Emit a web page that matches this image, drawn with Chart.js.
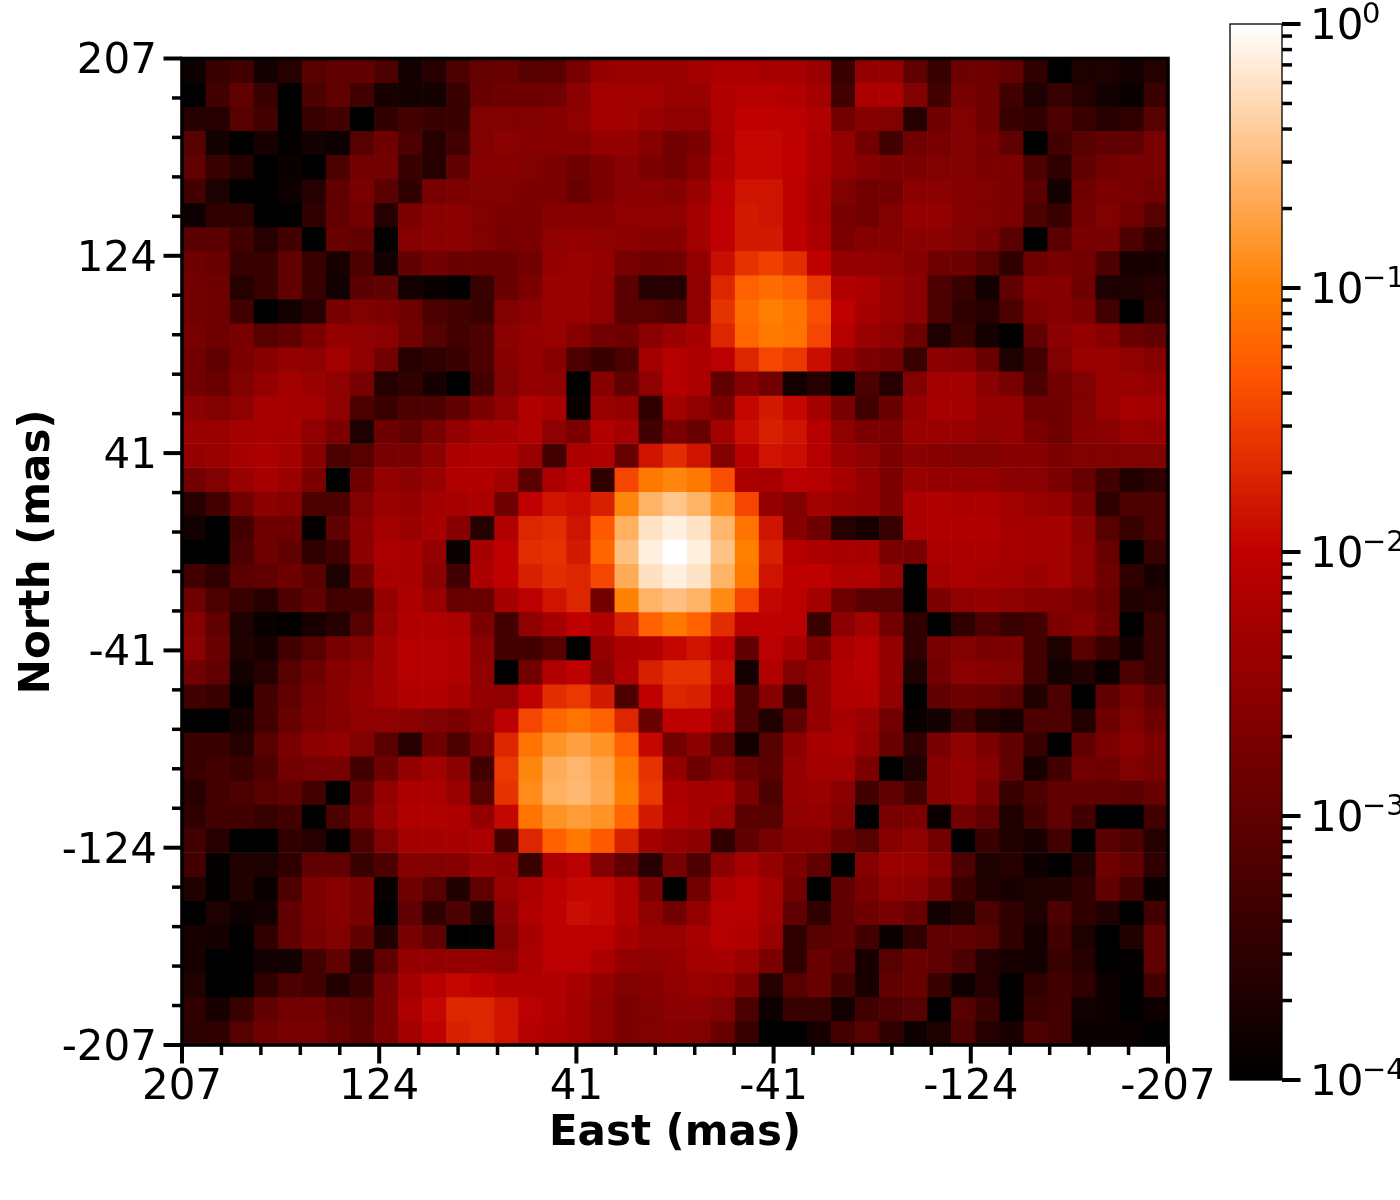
<!DOCTYPE html>
<html>
<head>
<meta charset="utf-8">
<title>PSF map</title>
<script src="https://cdn.jsdelivr.net/npm/chart.js@4"></script>
<style>
  body { margin: 0; background: #fff; }
  canvas { position: absolute; top: 0; }
  #map { left: 0; }
  #cbar { left: 1200px; }
</style>
</head>
<body>
<canvas id="map" width="1400" height="1200"></canvas>
<canvas id="cbar" width="200" height="1200"></canvas>
<script>
// log10 of the intensity per cell. Top row first, east on the left.
const logIntensity = [
[-3.85,-3.4,-3.3,-3.8,-3.6,-3.1,-3,-3,-3.2,-3.8,-3.6,-3.2,-2.95,-2.9, -3.1,-3.05,-2.75,-2.45,-2.4,-2.4,-2.4,-2.3,-2.2,-2.2,-2.25,-2.25,-2.4,-3.4, -2.45,-2.45,-3,-3.4,-2.85,-2.85,-3,-3.5,-4,-3.7,-3.7,-3.8,-3.6],
[-4,-3.3,-3,-3.4,-4,-3.2,-3,-3.3,-3.75,-3.8,-3.8,-3.4,-2.9,-2.85, -2.85,-2.8,-2.55,-2.3,-2.3,-2.3,-2.4,-2.4,-2.15,-2.1,-2.1,-2.15,-2.3,-3.3, -2.2,-2.2,-2.65,-3.3,-2.75,-2.85,-3.3,-3.7,-3.4,-3.6,-3.8,-3.9,-3.4],
[-3.6,-3.6,-3.1,-3.3,-4,-3.4,-3.3,-4,-3.5,-3.3,-3.4,-3.4,-2.65,-2.65, -2.65,-2.6,-2.5,-2.3,-2.3,-2.4,-2.5,-2.5,-2.15,-2,-2,-2.05,-2.15,-2.8, -2.6,-2.65,-3.6,-2.85,-2.65,-2.85,-3.4,-3.5,-3.2,-3.4,-3.6,-3.5,-3.1],
[-3.1,-3.8,-4,-3.75,-3.95,-3.8,-3.85,-3.1,-2.85,-3.2,-3.6,-3.3,-2.65,-2.55, -2.6,-2.6,-2.6,-2.45,-2.45,-2.6,-2.8,-2.7,-2.2,-1.95,-1.95,-2,-2.2,-2.45, -2.8,-3.3,-2.8,-2.75,-2.65,-2.75,-3,-4,-3.3,-3.1,-3,-3,-2.75],
[-3,-3.4,-3.6,-4,-3.9,-4,-3.2,-2.8,-2.8,-3.4,-3.6,-3,-2.6,-2.6, -2.65,-2.7,-2.85,-2.7,-2.55,-2.7,-2.8,-2.6,-2.15,-1.95,-1.95,-2,-2.2,-2.45, -2.6,-2.7,-2.7,-2.65,-2.65,-2.7,-2.7,-3.2,-3.5,-3,-2.8,-2.75,-2.75],
[-3.3,-3.7,-4,-4,-3.85,-3.6,-3,-2.75,-3.05,-3.5,-2.75,-2.7,-2.65,-2.65, -2.7,-2.7,-2.9,-2.7,-2.55,-2.55,-2.6,-2.4,-2.05,-1.85,-1.85,-2.05,-2.25,-2.65, -2.8,-2.8,-2.55,-2.55,-2.6,-2.65,-2.7,-3.05,-3.8,-2.85,-2.7,-2.75,-2.8],
[-3.85,-3.5,-3.5,-4,-4,-3.5,-3,-2.8,-3.6,-2.7,-2.55,-2.55,-2.65,-2.7, -2.7,-2.6,-2.6,-2.6,-2.5,-2.5,-2.5,-2.3,-2,-1.8,-1.85,-2.05,-2.25,-2.75, -2.8,-2.65,-2.45,-2.45,-2.6,-2.65,-2.7,-3.2,-3.4,-2.8,-2.65,-2.8,-3.1],
[-3.05,-3.05,-3.3,-3.6,-3.3,-4,-2.9,-3,-4,-2.6,-2.55,-2.55,-2.65,-2.75, -2.7,-2.5,-2.45,-2.5,-2.55,-2.6,-2.6,-2.3,-2,-1.8,-1.8,-2,-2.2,-2.7, -2.6,-2.6,-2.55,-2.55,-2.65,-2.75,-3.05,-4,-3.05,-2.75,-2.75,-3.2,-3.5],
[-2.85,-2.9,-3.4,-3.4,-3,-3.4,-3.75,-3.2,-3.8,-3,-2.8,-2.9,-2.9,-2.9, -2.8,-2.45,-2.4,-2.45,-2.75,-2.85,-2.8,-2.45,-1.9,-1.6,-1.5,-1.65,-2,-2.45, -2.45,-2.5,-2.6,-2.85,-2.85,-3.1,-3.5,-2.85,-2.75,-2.8,-3.2,-3.75,-3.75],
[-2.8,-2.85,-3.6,-3.4,-3,-3.4,-3.8,-3.05,-3,-3.8,-3.9,-4,-3.4,-2.9, -2.7,-2.4,-2.4,-2.5,-3.05,-3.6,-3.6,-2.5,-1.7,-1.25,-1.15,-1.25,-1.55,-2.15, -2.2,-2.4,-2.55,-3.2,-3.4,-3.8,-3,-2.6,-2.6,-2.85,-3.7,-3.7,-3.6],
[-2.8,-2.85,-3.3,-4,-3.8,-3.6,-2.75,-2.65,-2.7,-2.85,-3.2,-3.3,-3.4,-2.65, -2.55,-2.4,-2.4,-2.5,-3.05,-3.1,-3.2,-2.5,-1.6,-1.15,-1,-1.1,-1.4,-2, -2.25,-2.4,-2.55,-3.2,-3.5,-3.6,-3.2,-2.7,-2.6,-2.7,-3.3,-4,-3.5],
[-2.75,-2.85,-2.75,-3.1,-3,-2.7,-2.45,-2.5,-2.55,-2.8,-3.1,-3.3,-3.2,-2.55, -2.45,-2.4,-2.6,-2.8,-2.85,-2.55,-2.4,-2.25,-1.7,-1.2,-1.05,-1.1,-1.45,-2.1, -2.4,-2.5,-2.85,-3.7,-3.4,-3.8,-4,-3,-2.55,-2.45,-2.6,-2.9,-3],
[-2.8,-3,-2.7,-2.6,-2.45,-2.5,-2.3,-2.5,-2.8,-3.6,-3.5,-3.4,-3.2,-2.6, -2.45,-2.6,-3.2,-3.4,-3.2,-2.3,-2.1,-2.2,-2.05,-1.7,-1.45,-1.55,-1.9,-2.45, -2.7,-2.8,-3.4,-2.55,-2.6,-2.9,-3.7,-3.3,-2.65,-2.4,-2.4,-2.5,-2.6],
[-2.8,-2.9,-2.65,-2.45,-2.3,-2.4,-2.5,-2.75,-3.6,-3.5,-3.75,-4,-3.3,-2.65, -2.45,-2.5,-4,-2.6,-3,-2.5,-2.1,-2.2,-3,-2.6,-2.8,-3.8,-3.6,-4, -3.2,-3.6,-2.65,-2.3,-2.3,-2.55,-2.75,-3.2,-2.8,-2.65,-2.4,-2.4,-2.45],
[-2.55,-2.65,-2.5,-2.25,-2.25,-2.3,-2.5,-3.2,-3.4,-3.2,-3.2,-3,-2.7,-2.5, -2.15,-2.25,-3.9,-2.4,-2.45,-3.5,-2.3,-2.5,-2.7,-1.95,-1.8,-1.95,-2.3,-2.75, -3.3,-2.9,-2.45,-2.25,-2.25,-2.45,-2.45,-2.85,-2.85,-2.65,-2.4,-2.25,-2.3],
[-2.4,-2.4,-2.3,-2.25,-2.25,-2.5,-2.7,-3.7,-2.85,-3,-2.75,-2.45,-2.3,-2.25, -2.15,-2.5,-2.7,-2.15,-2.25,-3.3,-2.7,-2.9,-2.3,-1.9,-1.75,-1.85,-2.1,-2.5, -2.7,-2.7,-2.4,-2.4,-2.4,-2.5,-2.45,-2.7,-2.85,-2.6,-2.55,-2.4,-2.45],
[-2.45,-2.4,-2.25,-2.2,-2.3,-2.6,-3.2,-3.1,-2.75,-2.75,-2.55,-2.2,-2.15,-2.15, -2.4,-3.3,-2.2,-2.15,-2.9,-1.85,-1.65,-1.85,-2.65,-2.1,-1.85,-1.9,-2.1,-2.4, -2.5,-2.7,-2.55,-2.6,-2.65,-2.65,-2.6,-2.6,-2.7,-2.65,-2.65,-2.65,-2.65],
[-2.8,-2.65,-2.4,-2.25,-2.4,-2.7,-4,-2.85,-2.45,-2.55,-2.4,-2.15,-2.15,-2.3, -3.05,-2.2,-2,-3.5,-1.45,-1.05,-0.95,-1.05,-1.4,-2.2,-2.25,-2.05,-2.1,-2.25, -2.45,-2.7,-2.4,-2.45,-2.45,-2.45,-2.55,-2.55,-2.7,-2.9,-3.3,-3.65,-3.5],
[-3.6,-3.3,-2.8,-2.55,-2.6,-3.2,-3.2,-2.65,-2.4,-2.45,-2.3,-2.25,-2.2,-2.85, -2,-1.85,-1.9,-1.75,-0.95,-0.6,-0.45,-0.6,-0.9,-1.45,-2.45,-2.65,-2.3,-2.4, -2.45,-2.7,-2.2,-2.15,-2.2,-2.2,-2.3,-2.4,-2.45,-2.75,-3.5,-3.2,-3.2],
[-3.8,-4,-3.3,-2.85,-2.85,-3.95,-3,-2.55,-2.3,-2.4,-2.25,-2.6,-3.6,-2.15, -1.7,-1.65,-1.85,-1.3,-0.62,-0.22,-0.12,-0.22,-0.58,-1.1,-1.85,-2.6,-2.85,-3.6, -3.75,-3.4,-2.2,-2.15,-2.15,-2.15,-2.25,-2.3,-2.25,-2.55,-3.1,-3.4,-3.2],
[-4,-4,-3.2,-2.85,-3,-3.5,-3.3,-2.55,-2.2,-2.25,-2.45,-3.9,-2.25,-2, -1.65,-1.6,-1.8,-1.2,-0.5,-0.12,0,-0.12,-0.48,-1,-1.75,-2.1,-2.2,-2.25, -2.25,-2.7,-2.75,-2.2,-2.2,-2.2,-2.25,-2.3,-2.3,-2.5,-2.9,-4,-3.4],
[-3.3,-3.5,-3.05,-3,-2.85,-3.05,-3.7,-2.85,-2.25,-2.25,-2.55,-3.3,-2.2,-2, -1.75,-1.65,-1.7,-1.45,-0.65,-0.24,-0.12,-0.22,-0.6,-1.05,-1.85,-2,-2,-2.15, -2.15,-2.4,-4,-2.3,-2.2,-2.25,-2.3,-2.4,-2.3,-2.5,-2.85,-3.5,-3.75],
[-2.85,-3.2,-3.4,-3.6,-3.2,-3,-3.3,-3.3,-2.45,-2.2,-2.4,-2.9,-2.9,-2.3, -2.05,-1.85,-1.7,-2.8,-0.98,-0.6,-0.5,-0.6,-0.92,-1.45,-1.95,-2.05,-2.3,-2.85, -3.05,-3.1,-4,-2.7,-2.5,-2.45,-2.5,-2.6,-2.6,-2.7,-2.9,-3.65,-3.6],
[-2.6,-3,-3.7,-3.9,-3.95,-3.75,-3.6,-3.1,-2.4,-2.15,-2.15,-2.2,-2.7,-3.3, -2.5,-2.25,-2,-2.15,-1.75,-1.25,-1.05,-1.25,-1.65,-2.05,-2,-2.05,-3.4,-2.55, -2.3,-2.8,-3.5,-4,-3.5,-3.2,-3.4,-3.3,-2.7,-2.6,-2.85,-4,-3.4],
[-2.55,-2.9,-3.65,-3.75,-3.3,-3.1,-2.75,-2.65,-2.3,-2.1,-2.1,-2.15,-2.55,-3.3, -3.3,-3.1,-4,-2.45,-2.2,-2.15,-1.95,-1.85,-2,-3,-2.05,-2.25,-2.7,-2.2, -2.1,-2.45,-3.5,-2.75,-2.65,-2.75,-2.7,-3.3,-3.7,-3.1,-3.4,-3.8,-3.4],
[-2.8,-3,-3.8,-3.6,-3.1,-2.85,-2.6,-2.5,-2.3,-2.1,-2.1,-2.15,-2.5,-4, -2.8,-2.15,-2,-2.55,-2.15,-1.75,-1.6,-1.6,-1.9,-3.8,-2.15,-2.65,-2.45,-2.15, -2.1,-2.45,-3.7,-2.8,-2.55,-2.6,-2.65,-3.3,-3.8,-3.65,-3.9,-3.2,-3.4],
[-3.3,-3.4,-3.95,-3.3,-3,-2.75,-2.6,-2.45,-2.3,-2.15,-2.15,-2.25,-2.45,-2.5, -2,-1.65,-1.55,-1.8,-3.2,-2,-1.7,-1.75,-2,-3.2,-2.6,-3.5,-2.45,-2.15, -2.15,-2.5,-4,-3,-2.85,-2.9,-3.05,-3.65,-3.2,-4,-3,-2.75,-3],
[-4,-4,-3.75,-3.3,-2.9,-2.7,-2.6,-2.5,-2.5,-2.55,-2.65,-2.7,-2.55,-2.05, -1.45,-1.2,-1.1,-1.25,-1.7,-2.9,-2,-2,-2.25,-3.2,-3.65,-3,-2.45,-2.25, -2.4,-2.8,-3.9,-3.8,-3.3,-3.65,-3.75,-3.2,-3.2,-3.65,-2.85,-2.65,-2.85],
[-3.4,-3.4,-3.6,-3.1,-2.75,-2.55,-2.45,-2.65,-3.05,-3.6,-2.85,-3.2,-2.75,-1.7, -1.1,-0.85,-0.75,-0.85,-1.25,-1.95,-2.8,-2.55,-3,-3.8,-3.1,-2.55,-2.25,-2.2, -2.45,-2.9,-3.5,-2.75,-2.5,-2.7,-3,-3.4,-4,-3,-2.7,-2.55,-2.7],
[-3.4,-3.3,-3.4,-3.2,-2.8,-2.75,-2.75,-3.3,-2.85,-2.45,-2.3,-2.55,-3.3,-1.55, -0.95,-0.65,-0.58,-0.7,-1.05,-1.6,-2.45,-2.85,-2.6,-2.9,-3.05,-2.45,-2.3,-2.3, -2.7,-4,-3.7,-2.6,-2.45,-2.6,-3,-3.75,-3.3,-2.8,-2.85,-2.65,-2.75],
[-3.6,-3.3,-3.2,-3.1,-3,-3.3,-4,-3,-2.45,-2.2,-2.2,-2.4,-3.1,-1.6, -0.9,-0.62,-0.56,-0.68,-1,-1.55,-2.2,-2.3,-2.25,-2.7,-3.2,-2.45,-2.4,-2.55, -3.3,-3,-3.3,-2.6,-2.45,-2.75,-3.4,-3.2,-3,-3,-3,-3.05,-2.9],
[-3.5,-3.3,-3.3,-3.4,-3.3,-4,-3.2,-2.8,-2.4,-2.15,-2.15,-2.2,-2.45,-1.95, -1.1,-0.85,-0.78,-0.85,-1.2,-1.8,-2.15,-2.25,-2.4,-3.05,-3.1,-2.5,-2.45,-2.65, -4,-2.75,-2.7,-3.9,-2.8,-3,-3.65,-3.3,-3,-3.3,-4,-4,-3.3],
[-3.3,-3.6,-4,-4,-3.5,-3.6,-3.95,-3.2,-2.65,-2.3,-2.25,-2.25,-2.2,-3.3, -1.7,-1.25,-1.05,-1.3,-1.75,-2.3,-2.45,-2.55,-3.5,-3,-2.75,-2.6,-2.6,-2.9, -3.1,-2.6,-2.5,-2.8,-4,-3.4,-3.65,-3.75,-3.3,-4,-3.05,-3.2,-3.6],
[-3.3,-3.95,-3.65,-3.7,-3.5,-3,-3,-3.4,-3.2,-2.6,-2.65,-2.6,-2.4,-2.45, -3.4,-2.2,-2.05,-2.65,-3,-3.6,-2.75,-3.2,-2.55,-2.25,-2.45,-2.7,-3,-4, -2.6,-2.4,-2.4,-2.6,-3.2,-3.7,-3.6,-3.85,-4,-3.65,-2.85,-3,-3.5],
[-3.65,-3.95,-3.65,-3.9,-3.2,-2.7,-2.6,-2.75,-3.9,-2.85,-3.1,-3.65,-3,-2.4, -2.2,-2.05,-1.95,-1.95,-2.15,-2.7,-4,-2.8,-2.2,-2.1,-2.3,-2.8,-4,-3, -2.7,-2.5,-2.55,-2.8,-3.4,-3.65,-3.75,-3.7,-3.65,-3.5,-3,-3.3,-3.9],
[-4,-3.7,-3.85,-3.8,-3,-2.7,-2.6,-2.75,-4,-3,-3.5,-3.2,-3.65,-2.55, -2.15,-2,-1.9,-1.95,-2.15,-2.5,-2.8,-2.45,-2.1,-2.1,-2.3,-3,-3.5,-3, -2.85,-2.75,-2.9,-3.8,-3.65,-3.2,-3.5,-3.7,-3.2,-3.5,-3.65,-4,-3.3],
[-3.75,-3.8,-4,-3.5,-3,-2.75,-2.65,-3,-3.65,-2.75,-3,-4,-4,-2.65, -2.25,-2.05,-2,-2.05,-2.25,-2.4,-2.4,-2.25,-2.1,-2.15,-2.4,-3.5,-3.1,-3, -3.3,-3.9,-3.5,-3,-3,-3.1,-3.5,-3.8,-3.3,-3.7,-4,-3.65,-3],
[-3.75,-4,-4,-3.8,-3.8,-3.3,-3,-3.6,-3,-2.45,-2.45,-2.45,-2.45,-2.5, -2.2,-2.05,-2.05,-2.2,-2.45,-2.5,-2.45,-2.3,-2.25,-2.4,-2.7,-3.5,-2.9,-3.05, -3.75,-3.1,-2.9,-3,-3.2,-3.6,-3.75,-3.8,-3.4,-3.6,-4,-3.95,-3],
[-3.65,-4,-4,-3.5,-3.2,-3.3,-3.65,-3.4,-2.75,-2.3,-2.1,-1.95,-2,-2.15, -2.15,-2.15,-2.25,-2.45,-2.65,-2.6,-2.5,-2.4,-2.45,-2.7,-3.6,-3.1,-2.9,-3.3, -3.75,-3,-2.9,-3.4,-3.85,-3.6,-4,-3.5,-3.3,-3.5,-3.85,-4,-3.3],
[-3.5,-3.75,-3.4,-3,-2.8,-2.8,-3,-3.1,-2.7,-2.2,-1.95,-1.7,-1.7,-1.85, -2.05,-2.15,-2.3,-2.5,-2.7,-2.65,-2.55,-2.55,-2.65,-3.2,-3.85,-3.4,-3.4,-3.8, -3.3,-3.2,-3.1,-4,-3.1,-3.4,-4,-3.4,-3.3,-3.8,-3.85,-4,-3.85],
[-3.55,-3.5,-3.1,-2.85,-2.75,-2.75,-2.9,-3.05,-2.7,-2.3,-2,-1.75,-1.7,-1.85, -2.1,-2.2,-2.3,-2.5,-2.7,-2.65,-2.6,-2.65,-2.9,-3.4,-4,-4,-3.75,-3.3, -3.1,-3.5,-3.85,-3.7,-3.2,-3.6,-3.75,-3.2,-3.3,-3.9,-3.9,-3.9,-4]
];
const extent = 207;                 // mas, half width of the map
const axisTicks = [207, 124.2, 41.4, -41.4, -124.2, -207];
const axisLabels = ['207', '124', '41', '-41', '-124', '-207'];
const cbarDecades = [1e-4, 1e-3, 1e-2, 1e-1, 1];
const cbarExponents = ['\u22124', '\u22123', '\u22122', '\u22121', '0'];
const cbarMinorSteps = [2, 3, 4, 5, 6, 7, 8, 9];

const fontFamily = '"DejaVu Sans"';
Chart.defaults.font.family = fontFamily;
Chart.defaults.color = '#000';

// gist_heat colormap, v is log10 of the intensity (-4 to 0)
function heatColor(v) {
    const x = Math.min(1, Math.max(0, (v + 4) / 4));
    const ch = f => Math.round(255 * Math.min(1, Math.max(0, f)));
    return `rgb(${ch(1.5 * x)},${ch(2 * x - 1)},${ch(4 * x - 3)})`;
}

// Ticks have two lengths here, so they are drawn from the scale positions
const tickMarks = {
    id: 'tickMarks',
    afterDraw(chart) {
        const { ctx } = chart;
        ctx.save();
        ctx.strokeStyle = '#000';
        Object.values(chart.scales).forEach(scale => {
            if (!scale.options.display) return;
            scale.ticks.forEach(tick => {
                const p = scale.getPixelForValue(tick.value);
                const len = tick.major ? 18.5 : 10;
                ctx.lineWidth = tick.major ? 4 : 3.5;
                ctx.beginPath();
                if (scale.axis === 'x') {
                    ctx.moveTo(p, scale.top);
                    ctx.lineTo(p, scale.top + len);
                } else if (scale.position === 'left') {
                    ctx.moveTo(scale.right, p);
                    ctx.lineTo(scale.right - len, p);
                } else {
                    ctx.moveTo(scale.left, p);
                    ctx.lineTo(scale.left + len, p);
                }
                ctx.stroke();
            });
        });
        ctx.restore();
    }
};

const frame = {
    id: 'frame',
    afterDatasetsDraw(chart, args, opts) {
        const { ctx, chartArea: a } = chart;
        ctx.save();
        ctx.strokeStyle = '#000';
        ctx.lineWidth = opts.width;
        ctx.strokeRect(a.left, a.top, a.right - a.left, a.bottom - a.top);
        ctx.restore();
    }
};

function mapAxisTicks(scale) {
    const out = [];
    axisTicks.forEach((value, i) => {
        out.push({ value, major: true, label: axisLabels[i] });
        if (i === axisTicks.length - 1) return;
        const step = (axisTicks[i + 1] - value) / 5;
        for (let k = 1; k < 5; k++) out.push({ value: value + k * step, major: false });
    });
    scale.ticks = out;
}

const cellSize = 2 * extent / logIntensity[0].length;
const rowDatasets = logIntensity.map((row, r) => ({
    data: row.map((v, c) => ({
        x: extent - (c + 0.5) * cellSize,
        y: [extent - (r + 1) * cellSize, extent - r * cellSize]
    })),
    backgroundColor: row.map(heatColor),
    borderWidth: 0,
    grouped: false,
    barPercentage: 1,
    categoryPercentage: 1
}));

const mapFont = { size: 42, family: fontFamily };
const titleFont = { size: 42, weight: 'bold', family: fontFamily };

new Chart(document.getElementById('map'), {
    type: 'bar',
    data: { datasets: rowDatasets },
    plugins: [frame, tickMarks],
    options: {
        responsive: false,
        devicePixelRatio: 1,
        animation: false,
        layout: { padding: { left: 0, top: 58.5, right: 232, bottom: 0 } },
        plugins: { legend: { display: false }, tooltip: { enabled: false }, frame: { width: 3.6 } },
        scales: {
            x: {
                type: 'linear',
                reverse: true,
                min: -extent,
                max: extent,
                offset: false,
                grid: { display: false },
                border: { display: false },
                afterBuildTicks: mapAxisTicks,
                afterFit: s => { s.height = 155; },
                ticks: {
                    autoSkip: false,
                    maxRotation: 0,
                    padding: 10,
                    font: mapFont,
                    callback: (v, i, ticks) => ticks[i].label || ''
                },
                title: { display: true, text: 'East (mas)', font: titleFont, padding: { top: 0, bottom: 41 } }
            },
            y: {
                type: 'linear',
                min: -extent,
                max: extent,
                grid: { display: false },
                border: { display: false },
                afterBuildTicks: mapAxisTicks,
                afterFit: s => { s.width = 182; },
                ticks: {
                    autoSkip: false,
                    padding: 17,
                    labelOffset: 4,
                    font: mapFont,
                    callback: (v, i, ticks) => ticks[i].label || ''
                },
                title: { display: true, text: 'North (mas)', font: titleFont, padding: { top: 13, bottom: 0 } }
            }
        }
    }
});

// Superscript exponents next to the "10" tick labels
const exponents = {
    id: 'exponents',
    afterDraw(chart) {
        const { ctx, scales: { y } } = chart;
        ctx.save();
        ctx.fillStyle = '#000';
        ctx.font = `29px ${fontFamily}`;
        ctx.textBaseline = 'alphabetic';
        cbarDecades.forEach((value, i) => {
            ctx.fillText(cbarExponents[i], y.left + 80, y.getPixelForValue(value) - 1);
        });
        ctx.restore();
    }
};

new Chart(document.getElementById('cbar'), {
    type: 'bar',
    data: {
        labels: ['cbar'],
        datasets: [{
            data: [[cbarDecades[0], 1]],
            borderWidth: 0,
            barPercentage: 1,
            categoryPercentage: 1,
            backgroundColor(c) {
                const a = c.chart.chartArea;
                if (!a) return '#000';
                const g = c.chart.ctx.createLinearGradient(0, a.bottom, 0, a.top);
                [0, 0.25, 0.5, 2 / 3, 0.75, 0.875, 1].forEach(s => {
                    g.addColorStop(s, heatColor(s * 4 - 4));
                });
                return g;
            }
        }]
    },
    plugins: [frame, tickMarks, exponents],
    options: {
        responsive: false,
        devicePixelRatio: 1,
        animation: false,
        layout: { autoPadding: false, padding: { left: 30, top: 24, right: 0, bottom: 120 } },
        plugins: { legend: { display: false }, tooltip: { enabled: false }, frame: { width: 1.3 } },
        scales: {
            x: { display: false, grid: { display: false }, offset: true },
            y: {
                type: 'logarithmic',
                position: 'right',
                min: cbarDecades[0],
                max: 1,
                grid: { display: false },
                border: { display: false },
                afterBuildTicks(scale) {
                    const out = [];
                    cbarDecades.forEach(value => {
                        out.push({ value, major: true });
                        if (value < 1) cbarMinorSteps.forEach(m => out.push({ value: value * m, major: false }));
                    });
                    scale.ticks = out;
                },
                // no extra room for the top and bottom labels, the bar spans y 24 to 1080
                afterFit: s => { s.width = 118; s.paddingTop = 0; s.paddingBottom = 0; },
                ticks: {
                    autoSkip: false,
                    padding: 20,
                    labelOffset: 4,
                    font: mapFont,
                    callback: (v, i, ticks) => ticks[i].major ? '10' : ''
                }
            }
        }
    }
});
</script>
</body>
</html>
